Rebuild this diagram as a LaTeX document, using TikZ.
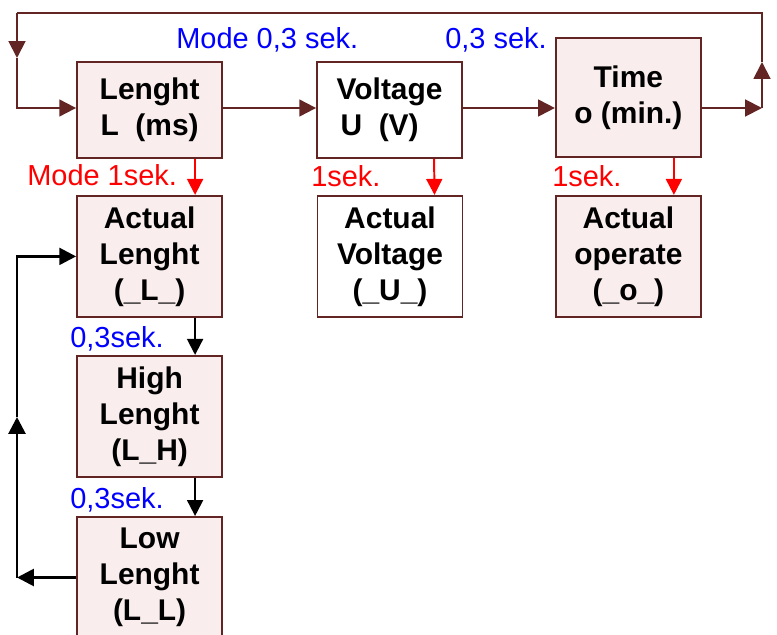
\documentclass[tikz,border=0pt]{standalone}
\usepackage{fontspec}
\setmainfont{Liberation Sans}
\usepackage{xcolor}
\definecolor{boxline}{RGB}{99,37,35}
\definecolor{boxbg}{RGB}{249,238,237}
\usepackage{tikz}
\usetikzlibrary{positioning, arrows.meta, calc}

\begin{document}
\begin{tikzpicture}[
  box/.style={draw=boxline, line width=1.4pt, minimum width=3.625cm,
              minimum height=2.4cm, align=center,
              font=\fontsize{21.3}{25.6}\selectfont\bfseries},
  tall/.style={minimum height=3.025cm},
  pink/.style={fill=boxbg},
  link/.style={draw=boxline, line width=1.4pt,
               -{Triangle[length=0.42cm, width=0.42cm]}},
  plain/.style={draw=boxline, line width=1.4pt},
  step1/.style={red, line width=1.4pt,
                -{Triangle[length=0.4cm, width=0.4cm]}},
  back/.style={black, line width=2pt,
               -{Triangle[length=0.42cm, width=0.42cm]}},
  down/.style={black, line width=1.4pt,
               -{Triangle[length=0.4cm, width=0.4cm]}},
  lbl/.style={anchor=base west, inner sep=0pt,
              font=\fontsize{20.6}{24}\selectfont},
]
\useasboundingbox (0,0) rectangle (19.425,-15.875);

% Top row
\node[box, pink] (len) at (3.74, -2.75) {Lenght\\L~~(ms)};
\node[box, fill=white] (vol) at (9.74, -2.75) {Voltage\\U~~(V)\hspace*{0.5cm}};
\node[box, pink, minimum height=2.975cm] (tim) at (15.71, -2.4375) {Time\\o (min.)};

% Actual values
\node[box, tall, pink] (actlen) at (3.74, -6.41) {Actual\\Lenght\\(\_L\_)};
\node[box, tall, fill=white] (actvol) at (9.75, -6.41) {Actual\\Voltage\\(\_U\_)};
\node[box, tall, pink] (actop) at (15.71, -6.41) {Actual\\operate\\(\_o\_)};

% Lenght limits
\node[box, tall, pink] (high) at (3.74, -10.41) {High\\Lenght\\(L\_H)};
\node[box, tall, pink] (low) at (3.74, -14.4375) {Low\\Lenght\\(L\_L)};

% Loop corners
\coordinate (tl) at (0.425, -0.325);
\coordinate (tr) at (19.05, -0.325);
\coordinate (lmid) at (0.425, -1.45);
\coordinate (rmid) at (19.05, -1.55);
\coordinate (r) at (19.05, -2.7);
\coordinate (blmid) at (0.425, -10.425);

% Mode loop
\draw[link] (len.east |- r) -- (vol.west |- r);
\draw[link] (vol.east |- r) -- (tim.west |- r);
\draw[link] (tim.east |- r) -- (r);
\draw[link] (r) -- (rmid);
\draw[plain] (rmid) -- (tr) -- (tl);
\draw[link] (tl) -- (lmid);
\draw[link] (lmid) |- (len.west |- r);

% 1 sek. steps
\draw[step1] ([xshift=-0.7cm]len.south east) -- ([xshift=-0.7cm]actlen.north east);
\draw[step1] ([xshift=-0.725cm]vol.south east) -- ([xshift=-0.725cm]actvol.north east);
\draw[step1] ([xshift=-0.7cm]tim.south east) -- ([xshift=-0.7cm]actop.north east);

% Lenght cycle
\draw[down] ([xshift=-0.7cm]actlen.south east) -- ([xshift=-0.7cm]high.north east);
\draw[down] ([xshift=-0.7cm]high.south east) -- ([xshift=-0.7cm]low.north east);
\draw[back] (low.west) -- (low.west -| tl);
\draw[back] (low.west -| tl) -- (blmid);
\draw[back] (blmid) |- (actlen.west);

% Labels
\node[lbl, blue] (m03) at (4.4, -1.2) {Mode 0,3 sek.};
\node[lbl, blue] (s03) at (11.125, -1.2) {0,3 sek.};
\node[lbl, red] (m1) at (0.675, -4.625) {Mode 1sek.};
\node[lbl, red] (s1v) at (7.775, -4.65) {1sek.};
\node[lbl, red] (s1t) at (13.8, -4.65) {1sek.};
\node[lbl, blue] (s03h) at (1.75, -8.675) {0,3sek.};
\node[lbl, blue] (s03l) at (1.75, -12.7) {0,3sek.};
\end{tikzpicture}
\end{document}
